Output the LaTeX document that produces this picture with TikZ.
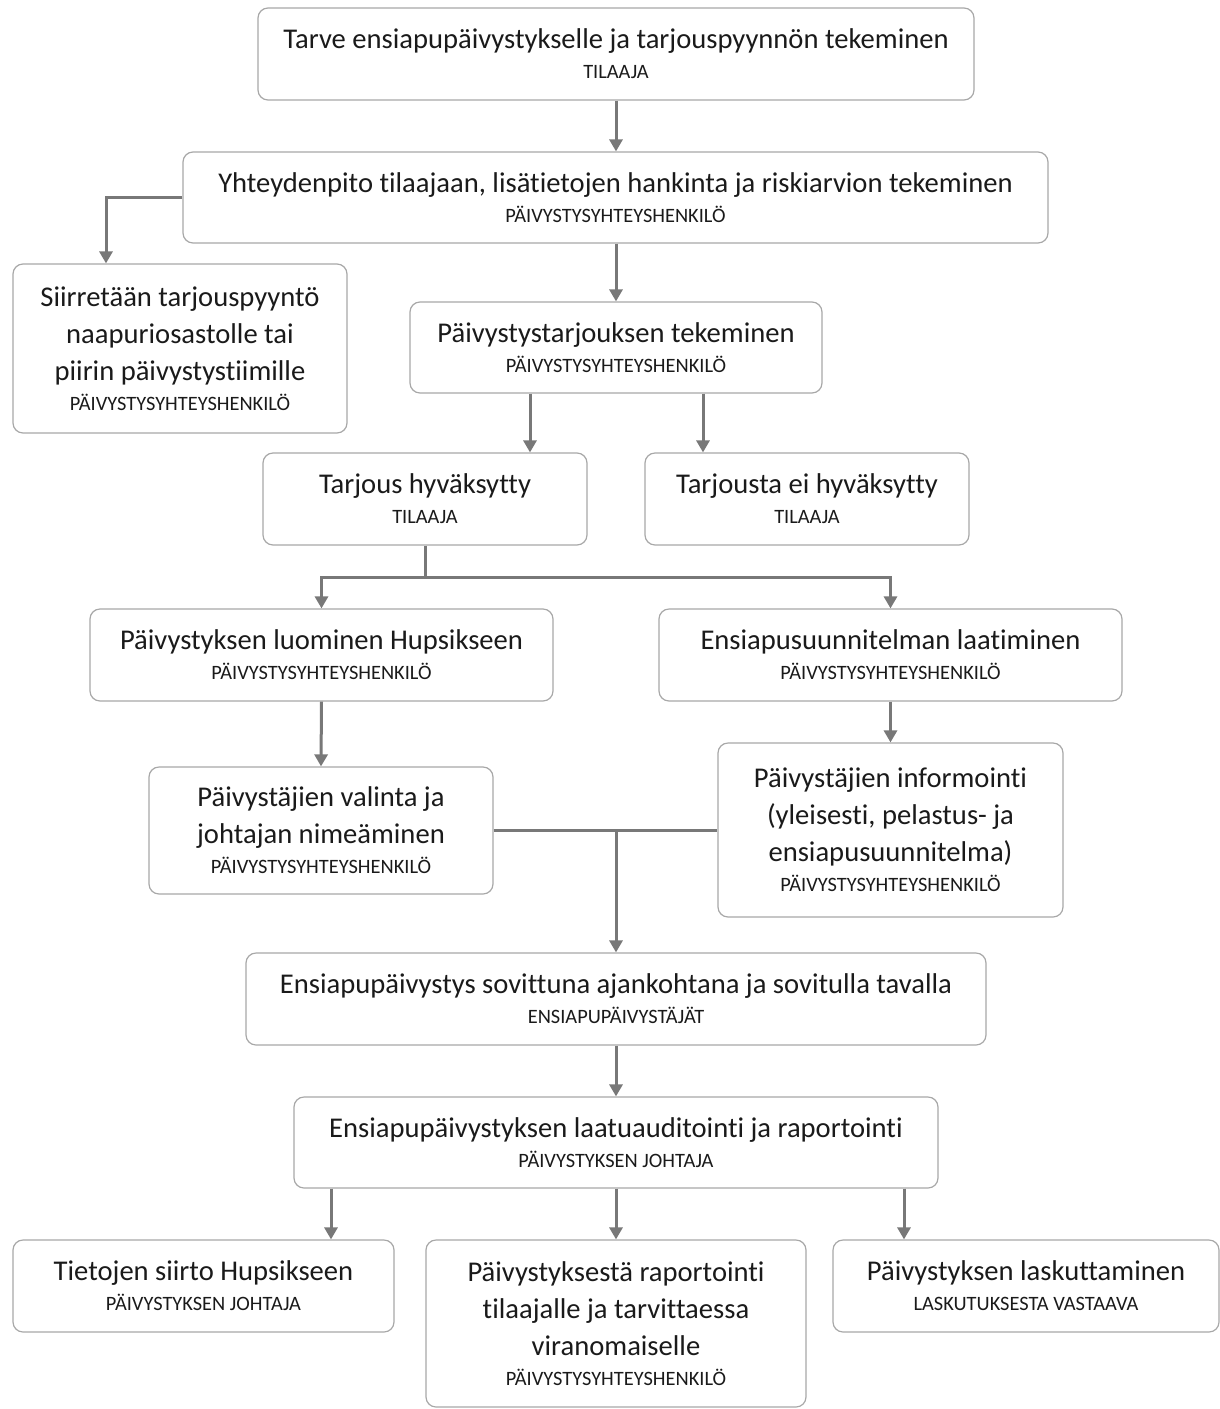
\documentclass[tikz,border=0pt]{standalone}
\usepackage{fontspec}
\setmainfont{Carlito}[Ligatures=NoCommon]
\usetikzlibrary{arrows.meta}
\definecolor{boxline}{HTML}{A8A8A8}
\definecolor{flowline}{HTML}{787878}
\definecolor{txt}{HTML}{1A1A1A}
\newcommand{\maintxt}{\fontsize{14.3}{18.5}\selectfont}
\newcommand{\roletxt}{\fontsize{10.2}{15.5}\selectfont}
\begin{document}
\begin{tikzpicture}[x=0.5pt,y=0.5pt,yscale=-1,
  box/.style={draw=boxline,line width=0.6pt,rounded corners=5pt,align=center,text=txt,inner sep=0pt,font=\maintxt},
  flow/.style={draw=flowline,line width=1.5pt,-{Triangle[length=6pt,width=6.5pt]}},
  link/.style={draw=flowline,line width=1.5pt}]
\useasboundingbox (0,0) rectangle (1220,1409);
% boxes
\node[box,minimum width=358pt,minimum height=46pt] (tarve) at (616,54) {Tarve ensiapupäivystykselle ja tarjouspyynnön tekeminen\\[-3.5pt]{\roletxt TILAAJA}};
\node[box,minimum width=432.5pt,minimum height=45.5pt] (yhteys) at (615.5,197.5) {Yhteydenpito tilaajaan, lisätietojen hankinta ja riskiarvion tekeminen\\[-3.5pt]{\roletxt PÄIVYSTYSYHTEYSHENKILÖ}};
\node[box,minimum width=167pt,minimum height=84.5pt] (siirto) at (180,348.5) {Siirretään tarjouspyyntö\\naapuriosastolle tai\\piirin päivystystiimille\\[-3.5pt]{\roletxt PÄIVYSTYSYHTEYSHENKILÖ}};
\node[box,minimum width=206pt,minimum height=45.5pt] (tarjous) at (616,347.5) {Päivystystarjouksen tekeminen\\[-3.5pt]{\roletxt PÄIVYSTYSYHTEYSHENKILÖ}};
\node[box,minimum width=162pt,minimum height=46pt] (hyv) at (425,499) {Tarjous hyväksytty\\[-3.5pt]{\roletxt TILAAJA}};
\node[box,minimum width=162pt,minimum height=46pt] (eihyv) at (807,499) {Tarjousta ei hyväksytty\\[-3.5pt]{\roletxt TILAAJA}};
\node[box,minimum width=231.5pt,minimum height=46pt] (luonti) at (321.5,655) {Päivystyksen luominen Hupsikseen\\[-3.5pt]{\roletxt PÄIVYSTYSYHTEYSHENKILÖ}};
\node[box,minimum width=231.5pt,minimum height=46pt] (suunnitelma) at (890.5,655) {Ensiapusuunnitelman laatiminen\\[-3.5pt]{\roletxt PÄIVYSTYSYHTEYSHENKILÖ}};
\node[box,minimum width=172pt,minimum height=63.5pt] (valinta) at (321,830.5) {Päivystäjien valinta ja\\johtajan nimeäminen\\[-3.5pt]{\roletxt PÄIVYSTYSYHTEYSHENKILÖ}};
\node[box,minimum width=172.5pt,minimum height=87pt] (informointi) at (890.5,830) {Päivystäjien informointi\\(yleisesti, pelastus- ja\\ensiapusuunnitelma)\\[-3.5pt]{\roletxt PÄIVYSTYSYHTEYSHENKILÖ}};
\node[box,minimum width=370pt,minimum height=46pt] (sovittu) at (616,999) {Ensiapupäivystys sovittuna ajankohtana ja sovitulla tavalla\\[-3.5pt]{\roletxt ENSIAPUPÄIVYSTÄJÄT}};
\node[box,minimum width=322pt,minimum height=45.5pt] (laatu) at (616,1142.5) {Ensiapupäivystyksen laatuauditointi ja raportointi\\[-3.5pt]{\roletxt PÄIVYSTYKSEN JOHTAJA}};
\node[box,minimum width=190.5pt,minimum height=46pt] (siirtohup) at (203.5,1286) {Tietojen siirto Hupsikseen\\[-3.5pt]{\roletxt PÄIVYSTYKSEN JOHTAJA}};
\node[box,minimum width=190pt,minimum height=83.5pt] (raportti) at (616,1323.5) {Päivystyksestä raportointi\\tilaajalle ja tarvittaessa\\viranomaiselle\\[-3.5pt]{\roletxt PÄIVYSTYSYHTEYSHENKILÖ}};
\node[box,minimum width=193pt,minimum height=46pt] (lasku) at (1026,1286) {Päivystyksen laskuttaminen\\[-3.5pt]{\roletxt LASKUTUKSESTA VASTAAVA}};
% connectors
\coordinate (split) at (425,577);
\coordinate (merge) at (616,830);
\draw[flow] (tarve.south) -- (yhteys.north -| tarve.south);
\draw[flow] (yhteys.west) -| ([xshift=-37pt]siirto.north);
\draw[flow] (tarjous.north |- yhteys.south) -- (tarjous.north);
\draw[flow] ([xshift=-43pt]tarjous.south) -- ([xshift=-43pt]tarjous.south |- hyv.north);
\draw[flow] ([xshift=43.5pt]tarjous.south) -- ([xshift=43.5pt]tarjous.south |- eihyv.north);
\draw[link] (hyv.south) -- (split);
\draw[flow] (split) -| (luonti.north);
\draw[flow] (split) -| (suunnitelma.north);
\draw[flow] (luonti.south) -- (valinta.north);
\draw[flow] (suunnitelma.south) -- (informointi.north);
\draw[link] (valinta.east) -- (informointi.west |- valinta.east);
\draw[flow] (merge) -- (sovittu.north);
\draw[flow] (sovittu.south) -- (laatu.north);
\draw[flow] ([xshift=-142.5pt]laatu.south) -- ([xshift=-142.5pt]laatu.south |- siirtohup.north);
\draw[flow] (laatu.south) -- (raportti.north);
\draw[flow] ([xshift=144pt]laatu.south) -- ([xshift=144pt]laatu.south |- lasku.north);
\end{tikzpicture}
\end{document}
